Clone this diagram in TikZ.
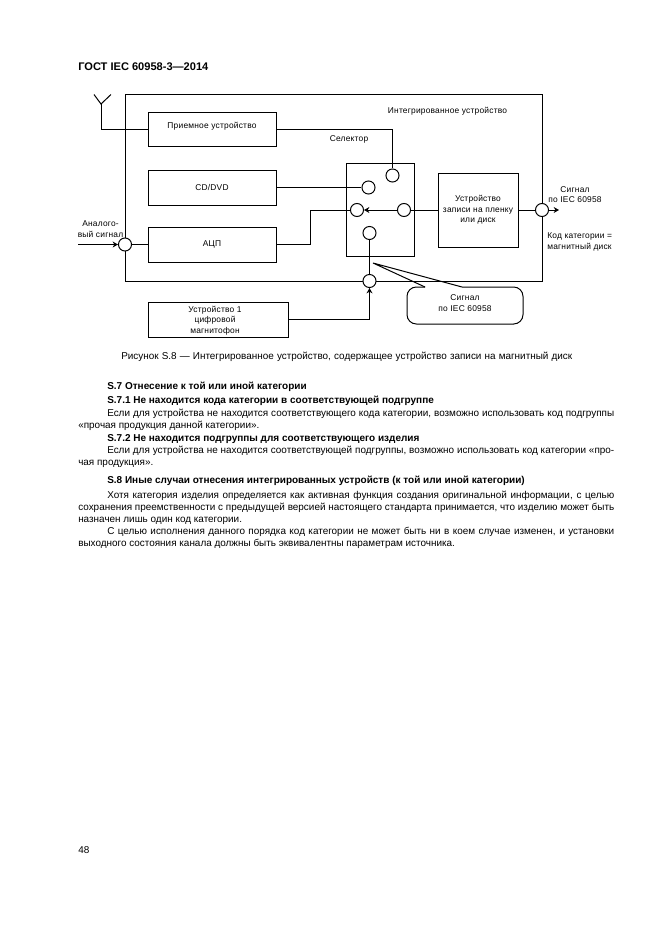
\documentclass[tikz,border=0pt]{standalone}
\usepackage{fontspec}
\setmainfont{Liberation Sans}
\newfontfamily\diagfont[LetterSpace=2.5]{Liberation Sans}
\usetikzlibrary{arrows.meta}
\tikzset{
  lw/.style={line width=0.75pt,black},
  box/.style={draw,lw,rectangle,inner sep=0pt,align=center,font=\diagfont\fontsize{6.3}{7.8}\selectfont},
  port/.style={draw,lw,circle,fill=white,inner sep=0pt,minimum size=9.8pt},
  lbl/.style={inner sep=0pt,align=center,font=\diagfont\fontsize{6.3}{7.8}\selectfont},
  conn/.style={lw},
  arr/.style={lw,-{Stealth[length=4pt,width=4.5pt]}},
  body/.style={inner sep=0pt,anchor=base west,font=\fontsize{7.45}{9}\selectfont},
  head/.style={inner sep=0pt,anchor=base west,font=\bfseries\fontsize{7.5}{9}\selectfont},
}
\newcommand{\jline}[2]{\makebox[\dimexpr #1pt*3/4\relax][s]{#2}}
\begin{document}
\begin{tikzpicture}[x=0.75pt,y=-0.75pt]
\useasboundingbox[fill=white] (0,0) rectangle (661,936);
% frame
\node[box,minimum width=417*0.75pt,minimum height=186.5*0.75pt] (frame) at (333.5,187.75) {};
% blocks
\node[box,minimum width=128*0.75pt,minimum height=34*0.75pt] (rx) at (212,129) {};
\node[lbl] (rxtext) at (212,126.5) {Приемное устройство};
\node[box,minimum width=128*0.75pt,minimum height=35*0.75pt] (cd) at (212,187.5) {CD/DVD};
\node[box,minimum width=128*0.75pt,minimum height=35*0.75pt] (adc) at (212,244.5) {АЦП};
\node[box,minimum width=140*0.75pt,minimum height=35*0.75pt] (dev) at (218,319.5) {};
\node[lbl] (devtext) at (215,320.5) {Устройство 1\\цифровой\\магнитофон};
\node[box,minimum width=68*0.75pt,minimum height=93*0.75pt] (sel) at (380,209.5) {};
\node[box,minimum width=80*0.75pt,minimum height=74*0.75pt] (wr) at (478,210) {Устройство\\записи на пленку\\или диск};
% ports
\node[port] (s1) at (392.5,175.5) {};
\node[port] (s2) at (368.5,187.5) {};
\node[port] (s3) at (357,210) {};
\node[port] (s4) at (404,210) {};
\node[port] (s5) at (369.5,233) {};
\node[port] (pl) at (125,244.5) {};
\node[port] (po) at (542,210) {};
\node[port] (pb) at (369.5,281) {};
% free ends
\coordinate (anttop) at (101,94.5);
\coordinate (antj) at (101,104);
\coordinate (antl) at (94,94.5);
\coordinate (antr) at (111,94.5);
\coordinate (bend) at (310,244.5);
\coordinate (in) at (78,244.5);
\coordinate (out) at (559,210);
% connectors
\draw[conn] (rx.west) -| (antj);
\draw[conn] (antl) -- (antj) -- (antr);
\draw[conn] (rx.east) -| (s1.north);
\draw[conn] (cd.east) -- (s2.west);
\draw[conn] (adc.east) -- (bend) |- (s3.west);
\draw[arr] (s4.west) -- (s3.east);
\draw[conn] (wr.west) -- (s4.east);
\draw[conn] (wr.east) -- (po.west);
\draw[arr] (po.east) -- (out);
\draw[arr] (in) -- (pl.west);
\draw[conn] (pl.east) -- (adc.west);
\draw[conn] (s5.south) -- (pb.north);
\draw[arr] (dev.east) -| (pb.south);
% callout
\coordinate (tip) at (373,263);
\coordinate (cl) at (425,287);
\coordinate (cr) at (462,287);
\draw[conn,rounded corners=7pt] (cr) -- (523,287) -- (523,324) -- (407,324) -- (407,287) -- (cl);
\draw[conn] (cl) -- (tip) -- (cr);
\node[lbl] (calltext) at (465,303) {Сигнал\\по IEC 60958};
% labels
\node[lbl] (t1) at (447.5,111) {Интегрированное устройство};
\node[lbl] (t2) at (349,139) {Селектор};
\node[lbl] (t3) at (100.5,229) {Аналого-\\вый сигнал};
\node[lbl] (t4) at (575,194.5) {Сигнал\\по IEC 60958};
\node[lbl,align=left,anchor=west] (t5) at (547,242) {Код категории =\\магнитный диск};
% page text
\node[head,font=\bfseries\fontsize{8.3}{9}\selectfont] (n1) at (78,70.5) {ГОСТ IEC 60958-3—2014};
\node[body] (n2) at (121,359.5) {\jline{451}{Рисунок S.8 — Интегрированное устройство, содержащее устройство записи на магнитный диск}};
\node[head] (n3) at (107,389.5) {S.7 Отнесение к той или иной категории};
\node[head] (n4) at (107,403.5) {S.7.1 Не находится кода категории в соответствующей подгруппе};
\node[body] (n5) at (107,416) {\jline{507}{Если для устройства не находится соответствующего кода категории, возможно использовать код подгруппы}};
\node[body] (n6) at (78,428) {«прочая продукция данной категории».};
\node[head] (n7) at (107,441) {S.7.2 Не находится подгруппы для соответствующего изделия};
\node[body] (n8) at (107,453) {\jline{507}{Если для устройства не находится соответствующей подгруппы, возможно использовать код категории «про-}};
\node[body] (n9) at (78,465) {чая продукция».};
\node[head] (n10) at (107,483.5) {S.8 Иные случаи отнесения интегрированных устройств (к той или иной категории)};
\node[body] (n11) at (107,498.5) {\jline{507}{Хотя категория изделия определяется как активная функция создания оригинальной информации, с целью}};
\node[body] (n12) at (78,510.5) {\jline{536}{сохранения преемственности с предыдущей версией настоящего стандарта принимается, что изделию может быть}};
\node[body] (n13) at (78,522.5) {назначен лишь один код категории.};
\node[body] (n14) at (107,534.5) {\jline{507}{С целью исполнения данного порядка код категории не может быть ни в коем случае изменен, и установки}};
\node[body] (n15) at (78,546.5) {выходного состояния канала должны быть эквивалентны параметрам источника.};
\node[body] (n16) at (78,853) {48};
\end{tikzpicture}
\end{document}
